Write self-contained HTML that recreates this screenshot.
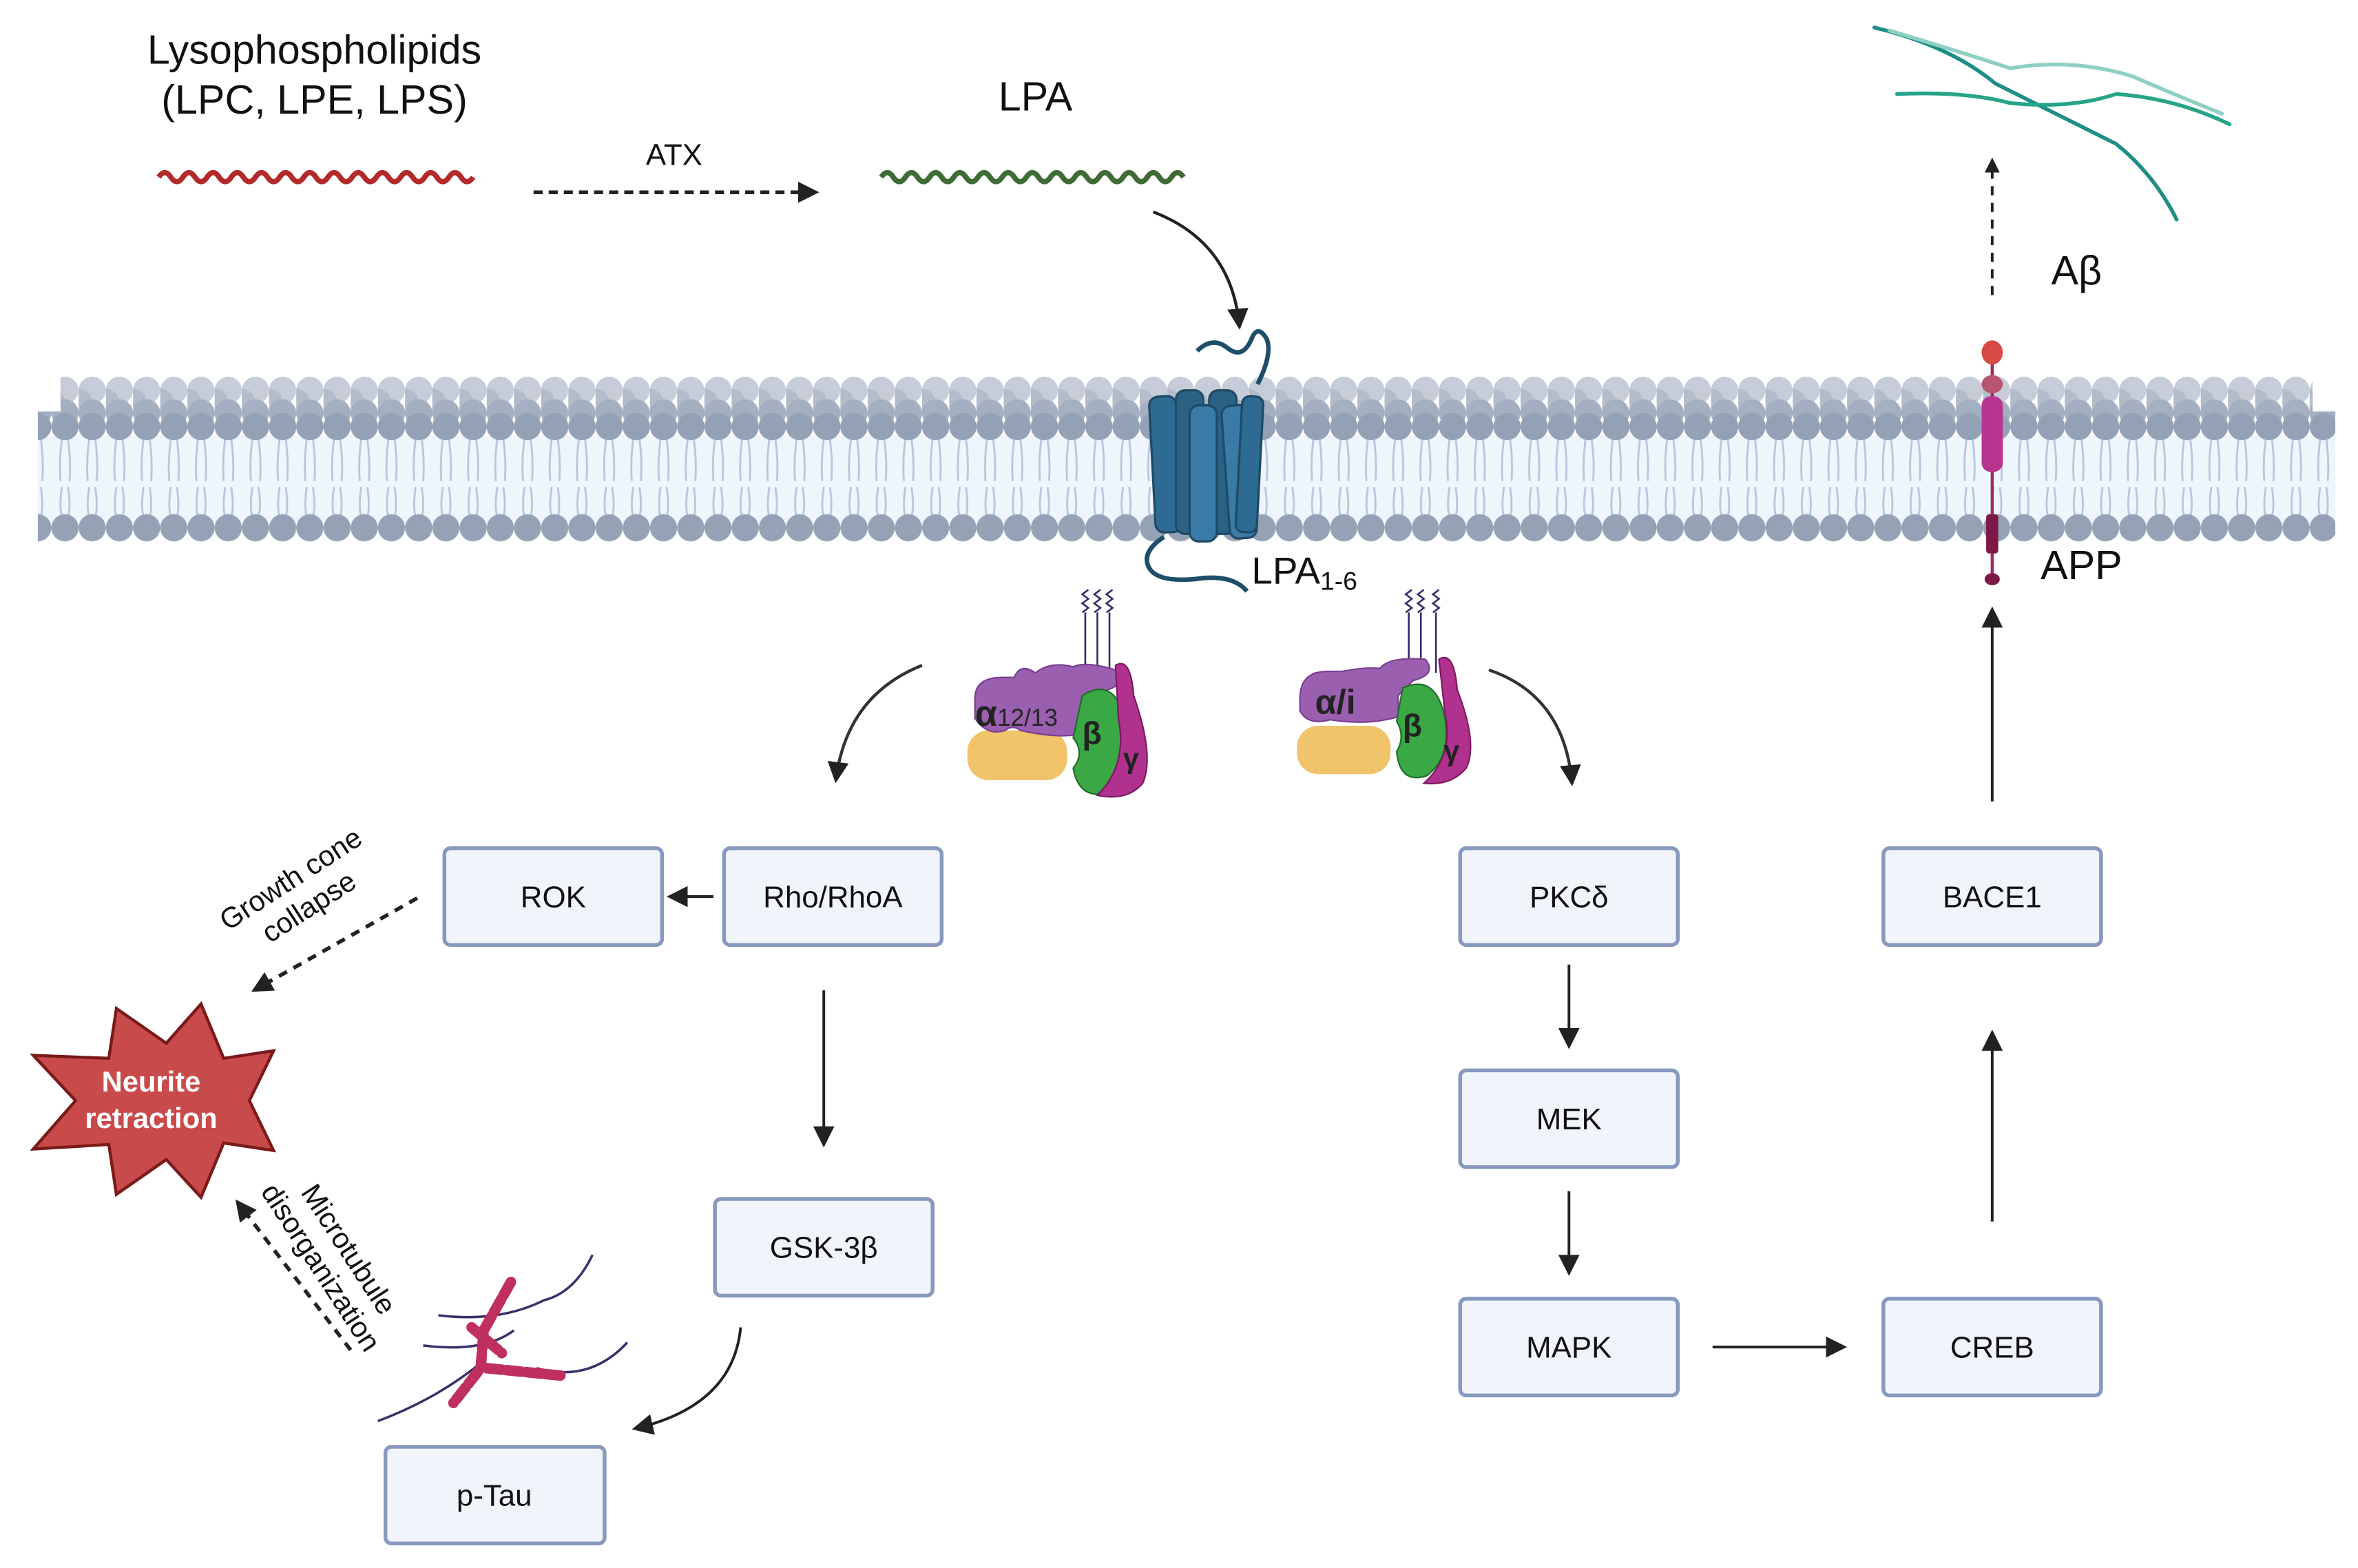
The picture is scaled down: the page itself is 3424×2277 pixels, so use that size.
<!DOCTYPE html>
<html><head><meta charset="utf-8"><style>
html,body{margin:0;padding:0;background:#fff;width:3424px;height:2277px;overflow:hidden}
svg{display:block}
text{font-family:"Liberation Sans",sans-serif}
</style></head><body>
<svg width="3424" height="2277" viewBox="0 0 1560 1037" xmlns="http://www.w3.org/2000/svg">
<defs>
<marker id="ah" markerWidth="10" markerHeight="10" refX="8" refY="5" orient="auto" markerUnits="userSpaceOnUse"><path d="M0,0 L10,5 L0,10 Z" fill="#222"/></marker>
<marker id="ahs" markerWidth="14" markerHeight="14" refX="12" refY="7" orient="auto" markerUnits="userSpaceOnUse"><path d="M0,0 L14,7 L0,14 Z" fill="#222"/></marker>
<pattern id="heads1" x="16" y="0" width="18" height="1037" patternUnits="userSpaceOnUse"><circle cx="9" cy="258" r="9" fill="#c7cdd8"/><circle cx="0" cy="266" r="9" fill="#b2bccb"/><circle cx="9" cy="273" r="9" fill="#a4afc1"/><circle cx="9" cy="282" r="9" fill="#93a1b6"/></pattern>
<pattern id="tails" x="16" y="0" width="18" height="1037" patternUnits="userSpaceOnUse"><path d="M7,290 Q5,305 6,318 M11,290 Q13,305 12,318 M7,322 Q5,335 7,342 M11,322 Q13,335 11,342" stroke="#b7c6e0" stroke-width="1.3" fill="none"/></pattern>
<pattern id="heads2" x="16" y="0" width="18" height="1037" patternUnits="userSpaceOnUse"><circle cx="9" cy="349" r="9" fill="#95a2b6"/></pattern>
</defs>

<text x="208" y="42" font-size="27" text-anchor="middle" fill="#111">Lysophospholipids</text>
<text x="208" y="75" font-size="27" text-anchor="middle" fill="#111">(LPC, LPE, LPS)</text>
<path d="M105,117 q4,-6 8,0 t8,0 t8,0 t8,0 t8,0 t8,0 t8,0 t8,0 t8,0 t8,0 t8,0 t8,0 t8,0 t8,0 t8,0 t8,0 t8,0 t8,0 t8,0 t8,0 t8,0 t8,0 t8,0 t8,0 t8,0 t8,0" stroke="#b22a2a" stroke-width="3.5" fill="none"/>
<text x="446" y="109" font-size="20" text-anchor="middle" fill="#111">ATX</text>
<line x1="353" y1="127" x2="540" y2="127" stroke="#222" stroke-width="2.5" stroke-dasharray="6,4" marker-end="url(#ahs)"/>
<text x="685" y="73" font-size="27" text-anchor="middle" fill="#111">LPA</text>
<path d="M583,117 q4,-6 8,0 t8,0 t8,0 t8,0 t8,0 t8,0 t8,0 t8,0 t8,0 t8,0 t8,0 t8,0 t8,0 t8,0 t8,0 t8,0 t8,0 t8,0 t8,0 t8,0 t8,0 t8,0 t8,0 t8,0 t8,0" stroke="#3f6b36" stroke-width="3.5" fill="none"/>
<path d="M763,140 Q815,160 820,216" stroke="#222" stroke-width="2" fill="none" marker-end="url(#ahs)"/>

<rect x="25" y="288" width="1520" height="58" fill="#eef5fc"/>
<rect x="25" y="288" width="1520" height="58" fill="url(#tails)"/>
<rect x="40" y="248" width="1490" height="42" fill="url(#heads1)"/>
<rect x="25" y="272" width="1520" height="20" fill="url(#heads1)"/>
<rect x="25" y="339" width="1520" height="20" fill="url(#heads2)"/>

<g stroke="#1f4a66" stroke-width="1.5">
<path d="M792,232 q10,-10 20,-2 q10,8 16,-6 q4,-10 10,0 q4,10 -6,30" fill="none" stroke="#1e4e69" stroke-width="3"/>
<rect x="762" y="262" width="18" height="90" rx="6" fill="#2e6b93" transform="rotate(-3 771 300)"/>
<rect x="778" y="258" width="18" height="95" rx="6" fill="#2a6286"/>
<rect x="800" y="258" width="18" height="95" rx="6" fill="#2a6286"/>
<rect x="787" y="268" width="18" height="90" rx="6" fill="#3a7aa6"/>
<rect x="810" y="268" width="18" height="88" rx="6" fill="#3a7aa6" transform="rotate(-4 819 300)"/>
<rect x="820" y="262" width="14" height="90" rx="5" fill="#2e6b93" transform="rotate(3 827 300)"/>
</g>
<path d="M770,355 q-15,10 -10,20 q5,10 30,8 q25,-4 35,8" fill="none" stroke="#1e4e69" stroke-width="3"/>
<text x="828" y="386" font-size="25" fill="#111">LPA<tspan font-size="17" dy="4">1-6</tspan></text>

<g>
<path d="M718,445 v-40 M726,445 v-40 M734,450 v-45" stroke="#3b2a6b" stroke-width="1.2"/>
<path d="M716,405 l4,-3 -4,-3 4,-3 -4,-3 4,-3 M724,405 l4,-3 -4,-3 4,-3 -4,-3 4,-3 M732,405 l4,-3 -4,-3 4,-3 -4,-3 4,-3" stroke="#3b2a6b" stroke-width="1.2" fill="none"/>
<rect x="640" y="483" width="66" height="33" rx="14" fill="#f1c46c"/>
<path d="M645,462 q0,-14 18,-14 h8 q4,-10 14,-3 q10,-8 25,-4 q8,-4 28,2 q8,10 -8,14 l-10,10 v18 q-20,4 -45,-2 q-5,-4 -10,0 q-12,4 -20,-8 z" fill="#9b5fb0" stroke="#7a3f92" stroke-width="1"/>
<path d="M716,460 q22,-14 30,20 q4,28 -12,44 q-20,6 -24,-16 q8,-10 0,-20 z" fill="#3aa845" stroke="#1f6e2a" stroke-width="1"/>
<path d="M738,440 q10,-6 12,20 q14,40 6,58 q-10,12 -30,8 q20,-20 14,-50 z" fill="#b0328e" stroke="#7a1a60" stroke-width="1"/>
<text x="645" y="480" font-size="24" font-weight="bold" fill="#222">α<tspan font-size="16" font-weight="normal">12/13</tspan></text>
<text x="716" y="492" font-size="21" font-weight="bold" fill="#222">β</text>
<text x="743" y="508" font-size="19" font-weight="bold" fill="#222">γ</text>
</g>
<g>
<path d="M932,440 v-35 M940,440 v-35 M950,445 v-40" stroke="#3b2a6b" stroke-width="1.2"/>
<path d="M930,405 l4,-3 -4,-3 4,-3 -4,-3 4,-3 M938,405 l4,-3 -4,-3 4,-3 -4,-3 4,-3 M948,405 l4,-3 -4,-3 4,-3 -4,-3 4,-3" stroke="#3b2a6b" stroke-width="1.2" fill="none"/>
<rect x="858" y="480" width="62" height="32" rx="14" fill="#f1c46c"/>
<path d="M860,462 q0,-18 18,-18 h10 q15,-3 25,-2 q6,-8 30,-6 q8,10 -8,14 l-10,10 v14 q-20,6 -45,2 q-15,4 -20,-6 z" fill="#9b5fb0" stroke="#7a3f92" stroke-width="1"/>
<path d="M928,455 q22,-10 28,20 q4,26 -12,38 q-18,6 -20,-16 q6,-10 0,-20 z" fill="#3aa845" stroke="#1f6e2a" stroke-width="1"/>
<path d="M952,436 q10,-6 12,20 q14,36 6,52 q-10,12 -28,10 q20,-18 14,-46 z" fill="#b0328e" stroke="#7a1a60" stroke-width="1"/>
<text x="870" y="472" font-size="23" font-weight="bold" fill="#222">α/i</text>
<text x="928" y="487" font-size="21" font-weight="bold" fill="#222">β</text>
<text x="955" y="503" font-size="19" font-weight="bold" fill="#222">γ</text>
</g>
<path d="M610,440 Q560,460 553,516" stroke="#333" stroke-width="2" fill="none" marker-end="url(#ahs)"/>
<path d="M985,443 Q1035,460 1040,518" stroke="#333" stroke-width="2" fill="none" marker-end="url(#ahs)"/>

<line x1="1318" y1="235" x2="1318" y2="383" stroke="#a0285f" stroke-width="2"/>
<ellipse cx="1318" cy="233" rx="7" ry="8" fill="#d74a45"/>
<ellipse cx="1318" cy="254" rx="7" ry="6" fill="#b75570"/>
<rect x="1311" y="262" width="14" height="50" rx="6" fill="#b93491"/>
<rect x="1314" y="340" width="8" height="26" rx="2" fill="#7e1947"/>
<ellipse cx="1318" cy="383" rx="5" ry="4" fill="#7e1947"/>
<text x="1350" y="383" font-size="27" fill="#111">APP</text>
<text x="1357" y="188" font-size="27" fill="#111">Aβ</text>
<line x1="1318" y1="195" x2="1318" y2="106" stroke="#222" stroke-width="1.8" stroke-dasharray="6,5" marker-end="url(#ah)"/>
<g fill="none" stroke-linecap="round">
<path d="M1240,18 Q1290,30 1320,55 Q1360,75 1400,95 Q1425,115 1440,145" stroke="#1d8e86" stroke-width="2.5"/>
<path d="M1250,20 Q1300,35 1330,45 Q1370,38 1410,50 Q1445,65 1470,75" stroke="#8fcfc4" stroke-width="2.5"/>
<path d="M1255,62 Q1300,60 1330,68 Q1370,72 1400,62 Q1440,65 1475,82" stroke="#26a48a" stroke-width="2.5"/>
</g>

<g fill="#f1f5fb" stroke="#8799bf" stroke-width="2.5">
<rect x="294" y="561" width="144" height="64" rx="4"/>
<rect x="479" y="561" width="144" height="64" rx="4"/>
<rect x="966" y="561" width="144" height="64" rx="4"/>
<rect x="1246" y="561" width="144" height="64" rx="4"/>
<rect x="966" y="708" width="144" height="64" rx="4"/>
<rect x="966" y="859" width="144" height="64" rx="4"/>
<rect x="1246" y="859" width="144" height="64" rx="4"/>
<rect x="473" y="793" width="144" height="64" rx="4"/>
<rect x="255" y="957" width="145" height="64" rx="4"/>
</g>
<g font-size="20" text-anchor="middle" fill="#111">
<text x="366" y="600">ROK</text>
<text x="551" y="600">Rho/RhoA</text>
<text x="1038" y="600">PKCδ</text>
<text x="1318" y="600">BACE1</text>
<text x="1038" y="747">MEK</text>
<text x="1038" y="898">MAPK</text>
<text x="1318" y="898">CREB</text>
<text x="545" y="832">GSK-3β</text>
<text x="327" y="996">p-Tau</text>
</g>
<g stroke="#222" stroke-width="1.8" fill="none">
<line x1="472" y1="593" x2="443" y2="593" marker-end="url(#ahs)"/>
<line x1="545" y1="655" x2="545" y2="757" marker-end="url(#ahs)"/>
<line x1="1038" y1="638" x2="1038" y2="692" marker-end="url(#ahs)"/>
<line x1="1038" y1="788" x2="1038" y2="842" marker-end="url(#ahs)"/>
<line x1="1133" y1="891" x2="1220" y2="891" marker-end="url(#ahs)"/>
<line x1="1318" y1="808" x2="1318" y2="683" marker-end="url(#ahs)"/>
<line x1="1318" y1="530" x2="1318" y2="403" marker-end="url(#ahs)"/>
<path d="M490,878 Q485,930 420,945" marker-end="url(#ahs)"/>
<line x1="276" y1="594" x2="168" y2="655" stroke-width="2.5" stroke-dasharray="6,5" marker-end="url(#ahs)"/>
<line x1="232" y1="893" x2="157" y2="795" stroke-width="2.5" stroke-dasharray="6,5" marker-end="url(#ahs)"/>
</g>
<text transform="translate(198,590) rotate(-33)" font-size="19" text-anchor="middle" fill="#111"><tspan x="0" y="-4">Growth cone</tspan><tspan x="0" y="18">collapse</tspan></text>
<text transform="translate(222,832) rotate(57)" font-size="19" text-anchor="middle" fill="#111"><tspan x="0" y="-4">Microtubule</tspan><tspan x="0" y="18">disorganization</tspan></text>

<path d="M77,667 L110,690 L133,664 L148,700 L181,695 L165,728 L181,761 L148,756 L133,792 L110,767 L77,790 L72,757 L22,760 L50,728 L22,698 L72,700 Z" fill="#c84a4a" stroke="#7a1a1a" stroke-width="2"/>
<text x="100" y="722" font-size="19" font-weight="bold" fill="#fff" text-anchor="middle">Neurite</text>
<text x="100" y="746" font-size="19" font-weight="bold" fill="#fff" text-anchor="middle">retraction</text>

<g fill="none">
<path d="M250,940 Q290,925 320,900 M290,870 Q330,875 360,860 Q380,855 392,830 M280,890 Q320,895 340,880 M355,905 Q390,915 415,888" stroke="#3b2f6b" stroke-width="1.6"/>
<path d="M338,848 L320,880 L318,905 L300,928 M312,878 L332,895 M322,905 L372,910" stroke="#c0305e" stroke-width="7" stroke-linecap="round" stroke-dasharray="10,3"/>
</g>
</svg>
</body></html>
